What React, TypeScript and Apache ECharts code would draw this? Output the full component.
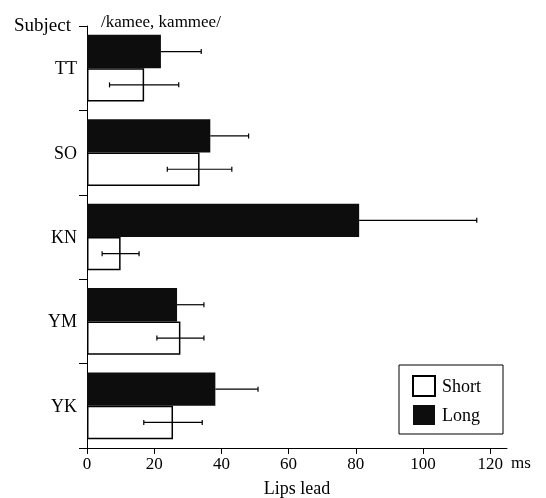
import React, { useEffect, useRef } from 'react';
import * as echarts from 'echarts';

const subjects = ['TT', 'SO', 'KN', 'YM', 'YK'];
const longMean = [22, 36.7, 81, 26.8, 38.2];
const longErr = [12, 11.4, 35, 8, 12.7];
const shortMean = [17, 33.5, 10, 27.8, 25.6];
const shortErr = [10.3, 9.6, 5.5, 7, 8.7];
const xTicks = [0, 20, 40, 60, 80, 100, 120];

const FONT = 'Liberation Serif';
const BAR_FRAC = 0.395;

function errSeries(id: string, means: number[], errs: number[], side: number, twoSided: boolean) {
  return {
    type: 'custom',
    id,
    silent: true,
    z: 5,
    data: subjects.map((_, i) => [i, means[i], errs[i]]),
    encode: { y: 0, x: 1 },
    renderItem: (params: any, api: any) => {
      const cat = api.value(0);
      const m = api.value(1);
      const e = api.value(2);
      const band = api.size([0, 1])[1];
      const bw = band * BAR_FRAC;
      const cy = api.coord([m, cat])[1] + side * bw / 2;
      const x1 = api.coord([twoSided ? m - e : m, cat])[0];
      const x2 = api.coord([m + e, cat])[0];
      const h = 2.5;
      const st = { stroke: '#000', lineWidth: 1.2 };
      const children: any[] = [
        { type: 'line', shape: { x1, y1: cy, x2, y2: cy }, style: st },
        { type: 'line', shape: { x1: x2, y1: cy - h, x2: x2, y2: cy + h }, style: st },
      ];
      if (twoSided) {
        children.push({ type: 'line', shape: { x1, y1: cy - h, x2: x1, y2: cy + h }, style: st });
      }
      return { type: 'group', children };
    },
  };
}

export default function App() {
  const ref = useRef<HTMLDivElement>(null);
  useEffect(() => {
    const chart = echarts.init(ref.current!, null, { renderer: 'svg' });
    chart.setOption({
      animation: false,
      title: {
        text: '/kamee, kammee/',
        left: 96,
        top: 8,
        textStyle: { fontFamily: FONT, fontSize: 17, fontWeight: 'normal', color: '#000' },
      },
      legend: {
        data: ['Short', 'Long'],
        orient: 'vertical',
        left: 399,
        top: 365,
        itemWidth: 22,
        itemHeight: 20,
        itemGap: 8,
        icon: 'rect',
        borderColor: '#000',
        borderWidth: 1,
        padding: [10, 22, 9, 13],
        textStyle: { fontFamily: FONT, fontSize: 18, color: '#000', padding: [0, 0, 0, 2] },
      },
      grid: { left: 87, right: 39, top: 26, bottom: 50, outerBoundsMode: 'none', containLabel: false },
      xAxis: {
        type: 'value',
        min: 0,
        max: 125,
        interval: 20,
        name: 'Lips lead',
        nameLocation: 'middle',
        nameGap: 31,
        nameTextStyle: { fontFamily: FONT, fontSize: 18, color: '#000' },
        axisLine: { show: true, lineStyle: { color: '#000', width: 1 } },
        axisTick: { show: true, length: 6, customValues: xTicks, lineStyle: { color: '#000' } },
        axisLabel: { customValues: xTicks, margin: 7, fontFamily: FONT, fontSize: 17, color: '#000' },
        splitLine: { show: false },
      },
      yAxis: {
        type: 'category',
        data: subjects,
        inverse: true,
        axisLine: { show: true, lineStyle: { color: '#000', width: 1 } },
        axisTick: { show: true, length: 8, lineStyle: { color: '#000' } },
        axisLabel: { margin: 10, fontFamily: FONT, fontSize: 18, color: '#000' },
        splitLine: { show: false },
      },
      graphic: [
        { type: 'text', left: 14, top: 15, style: { text: 'Subject', fontFamily: FONT, fontSize: 19, fill: '#000' } },
        { type: 'text', left: 511, top: 454, style: { text: 'ms', fontFamily: FONT, fontSize: 17, fill: '#000' } },
      ],
      series: [
        {
          name: 'Long',
          type: 'bar',
          data: longMean,
          barWidth: `${BAR_FRAC * 100}%`,
          barGap: '0%',
          itemStyle: { color: '#0d0d0d' },
        },
        {
          name: 'Short',
          type: 'bar',
          data: shortMean,
          barWidth: `${BAR_FRAC * 100}%`,
          barGap: '0%',
          itemStyle: { color: '#fff', borderColor: '#000', borderWidth: 1.5 },
        },
        errSeries('longErr', longMean, longErr, -1, false),
        errSeries('shortErr', shortMean, shortErr, 1, true),
      ],
    });
    return () => chart.dispose();
  }, []);
  return <div ref={ref} style={{ position: 'fixed', left: 0, top: 0, width: 546, height: 498 }} />;
}
